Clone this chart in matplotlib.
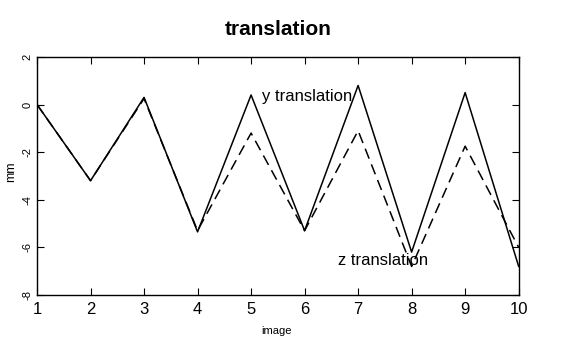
import matplotlib
matplotlib.use("Agg")
import matplotlib.pyplot as plt

images = [1, 2, 3, 4, 5, 6, 7, 8, 9, 10]
y_translation = [0.0, -3.2, 0.3, -5.35, 0.4, -5.3, 0.8, -6.2, 0.5, -6.8]
z_translation = [0.0, -3.2, 0.25, -5.3, -1.2, -5.3, -1.1, -6.8, -1.75, -6.0]
yticks = [2, 0, -2, -4, -6, -8]

font = "Liberation Sans"

fig = plt.figure(figsize=(5.81, 3.47), dpi=100)
ax = fig.add_axes([0.0637, 0.150, 0.829, 0.686])
ax.plot(images, y_translation, color="black", lw=1.1, ls="-")
ax.plot(images, z_translation, color="black", lw=1.1, ls=(0, (7, 4)))
ax.set_xlim(1, 10)
ax.set_ylim(-8, 2)
ax.set_xticks(images)
ax.set_yticks(yticks)
ax.set_yticklabels([str(v) for v in yticks])
ax.tick_params(direction="in", top=True, right=True, length=5, width=0.8)
ax.tick_params(axis="x", labelsize=12, pad=5)
ax.tick_params(axis="y", labelsize=8, pad=3)
for lab in ax.get_xticklabels():
    lab.set_fontfamily(font)
for lab in ax.get_yticklabels():
    lab.set_fontfamily(font)
    lab.set_rotation(90)
    lab.set_va("center")
for s in ax.spines.values():
    s.set_linewidth(1.0)

ax.text(5.2, 0.35, "y translation", fontsize=12, family=font, va="center", ha="left")
ax.text(6.62, -6.55, "z translation", fontsize=12, family=font, va="center", ha="left")

fig.text(0.478, 0.915, "translation", fontsize=15, fontweight="bold", family=font,
         ha="center", va="center")
fig.text(0.476, 0.045, "image", fontsize=8, family=font, ha="center", va="center")
fig.text(0.020, 0.505, "mm", fontsize=9, family=font, rotation=90, ha="center", va="center")

fig.savefig("out.png", dpi=100)
